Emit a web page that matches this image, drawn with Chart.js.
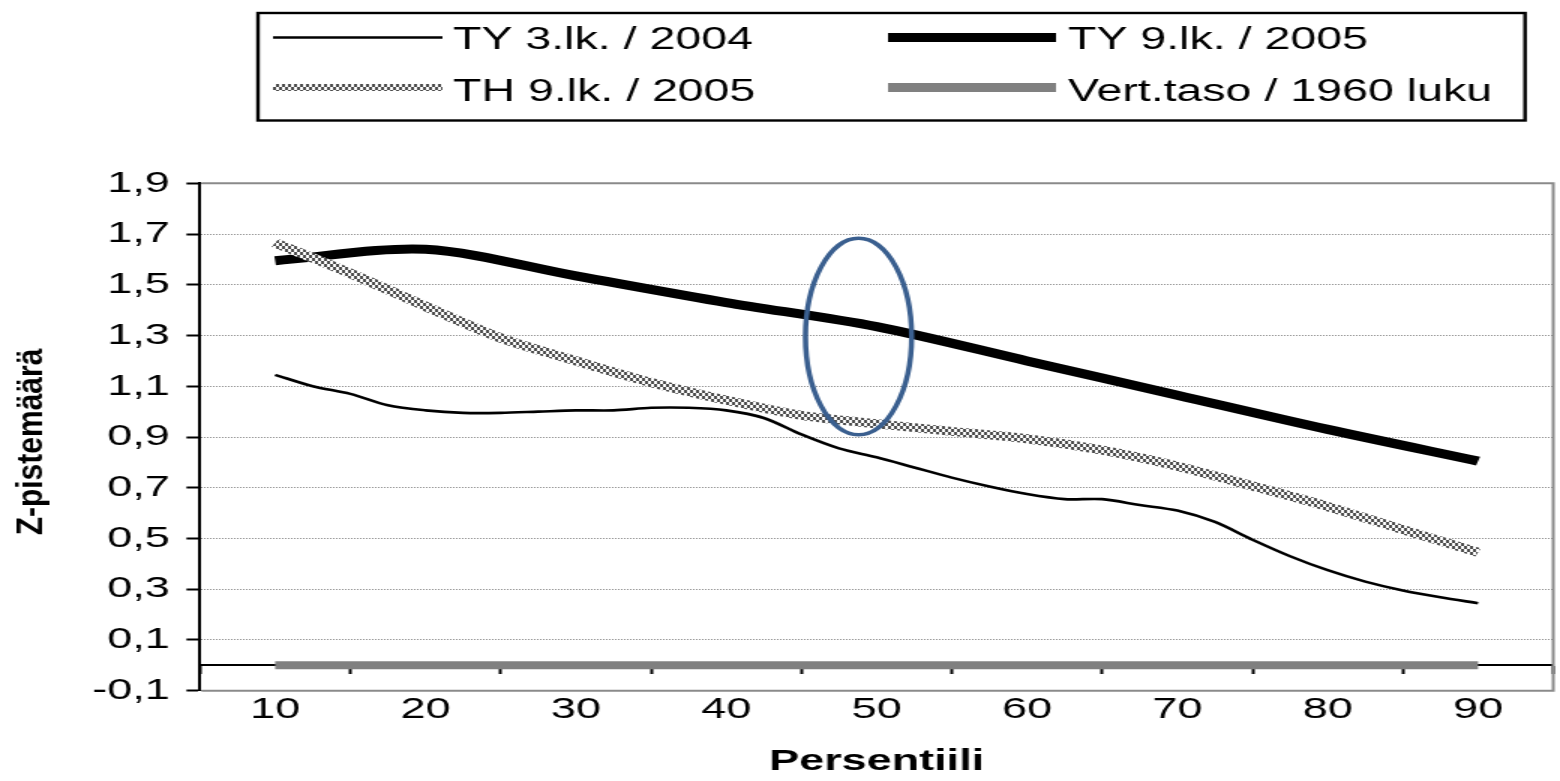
<!DOCTYPE html>
<html>
<head>
<meta charset="utf-8">
<script src="https://cdn.jsdelivr.net/npm/chart.js@4.4.1/dist/chart.umd.min.js"></script>
<style>
html, body { margin: 0; padding: 0; background: #ffffff; overflow: hidden; }
#wrap { position: absolute; left: 0; top: 0; width: 1040px; height: 781px; transform: scale(1.5, 1); transform-origin: 0 0; }
</style>
</head>
<body>
<div id="wrap"><canvas id="c"></canvas></div>
<script>
// ---------------- data ----------------
const seriesLabels = ['TY 3.lk. / 2004', 'TY 9.lk. / 2005', 'TH 9.lk. / 2005', 'Vert.taso / 1960 luku'];

const ty3Percentiles = [10, 12.5, 15, 17.5, 20, 22.5, 25, 27.5, 30, 32.5, 35, 37.5, 40, 42.5, 45, 47.5, 50,
                        52.5, 55, 57.5, 60, 62.5, 65, 67.5, 70, 72.5, 75, 77.5, 80, 82.5, 85, 87.5, 90];
const ty3Values = [1.145, 1.10, 1.07, 1.025, 1.005, 0.995, 0.995, 1.0, 1.005, 1.005, 1.015, 1.015, 1.005, 0.975, 0.91, 0.855, 0.82,
                   0.78, 0.74, 0.705, 0.675, 0.655, 0.655, 0.632, 0.61, 0.565, 0.495, 0.43, 0.375, 0.33, 0.295, 0.268, 0.245];

const ty9Percentiles = [10, 20, 30, 40, 50, 60, 70, 80, 90];
const ty9Values = [1.595, 1.64, 1.535, 1.43, 1.335, 1.20, 1.065, 0.93, 0.805];

const th9Percentiles = [10, 15, 20, 25, 30, 35, 40, 45, 50, 55, 60, 65, 70, 75, 80, 85, 90];
const th9Values = [1.665, 1.545, 1.415, 1.29, 1.20, 1.115, 1.045, 0.985, 0.952, 0.922, 0.893, 0.848, 0.785, 0.707, 0.626, 0.535, 0.445];

const refPercentiles = [10, 20, 30, 40, 50, 60, 70, 80, 90];
const refValues = [0, 0, 0, 0, 0, 0, 0, 0, 0];

const xTickValues = [10, 20, 30, 40, 50, 60, 70, 80, 90];
const xTickLabels = ['10', '20', '30', '40', '50', '60', '70', '80', '90'];
const xBoundaryValues = [5, 15, 25, 35, 45, 55, 65, 75, 85, 95];
const yTickValues = [-0.1, 0.1, 0.3, 0.5, 0.7, 0.9, 1.1, 1.3, 1.5, 1.7, 1.9];
const yTickLabels = ['-0,1', '0,1', '0,3', '0,5', '0,7', '0,9', '1,1', '1,3', '1,5', '1,7', '1,9'];

const xAxisTitle = 'Persentiili';
const yAxisTitle = 'Z-pistemäärä';

// highlight ellipse (data units)
const highlight = { x: 48.8, y: 1.296, rx: 3.53, ry: 0.387 };

// ---------------- layout / style ----------------
const STRETCH = 1.5;
const FONT = "'Liberation Sans', Arial, Helvetica, sans-serif";
const legendLayout = {
  box: { left: 172, top: 13, right: 1016.7, bottom: 120.5 },
  cols: [{ s0: 182, s1: 295, tx: 302 }, { s0: 592, s1: 704, tx: 712 }],
  rows: [{ ly: 37.5, ty: 48.5 }, { ly: 87.5, ty: 100.5 }]
};

const canvas = document.getElementById('c');
const ctx0 = canvas.getContext('2d');

function makeChecker() {
  const c = document.createElement('canvas');
  c.width = 4; c.height = 6;
  const g = c.getContext('2d');
  g.fillStyle = '#ffffff'; g.fillRect(0, 0, 4, 6);
  g.fillStyle = '#4c4c4c'; g.fillRect(0, 0, 2, 3); g.fillRect(2, 3, 2, 3);
  return ctx0.createPattern(c, 'repeat');
}
const checker = makeChecker();

function pts(xs, ys) { return xs.map((x, i) => ({ x: x, y: ys[i] })); }

const decor = {
  id: 'decor',
  beforeDatasetsDraw(chart) {
    const { ctx, chartArea: a } = chart;
    ctx.save();
    ctx.strokeStyle = '#8a8a8a';
    ctx.lineWidth = 2;
    ctx.setLineDash([]);
    ctx.beginPath();
    ctx.moveTo(a.left + 1, a.top);
    ctx.lineTo(a.right, a.top);
    ctx.lineTo(a.right, a.bottom);
    ctx.lineTo(a.left + 1, a.bottom);
    ctx.stroke();
    ctx.restore();
  },
  afterDatasetsDraw(chart) {
    const { ctx } = chart;
    const xs = chart.scales.x, ys = chart.scales.y;
    const cx = xs.getPixelForValue(highlight.x);
    const cy = ys.getPixelForValue(highlight.y);
    const rx = Math.abs(xs.getPixelForValue(highlight.x + highlight.rx) - cx);
    const ry = Math.abs(ys.getPixelForValue(highlight.y + highlight.ry) - cy);
    ctx.save();
    ctx.strokeStyle = '#3a5f8f';
    ctx.lineWidth = 3.5;
    ctx.beginPath();
    ctx.ellipse(cx, cy, rx, ry, 0, 0, Math.PI * 2);
    ctx.stroke();
    ctx.restore();
  },
  afterDraw(chart) {
    const { ctx } = chart;
    const L = legendLayout;
    ctx.save();
    // legend frame
    ctx.strokeStyle = '#000';
    ctx.lineWidth = 2.4;
    ctx.strokeRect(L.box.left, L.box.top, L.box.right - L.box.left, L.box.bottom - L.box.top);
    // legend entries
    ctx.font = '31px ' + FONT;
    ctx.textAlign = 'left';
    ctx.textBaseline = 'alphabetic';
    chart.data.datasets.forEach((ds, i) => {
      const col = L.cols[i % 2], row = L.rows[Math.floor(i / 2)];
      ctx.save();
      ctx.strokeStyle = ds.borderColor;
      ctx.lineWidth = ds.legendWidth;
      ctx.lineCap = 'butt';
      ctx.beginPath();
      ctx.moveTo(col.s0, row.ly);
      ctx.lineTo(col.s1, row.ly);
      ctx.stroke();
      ctx.restore();
      ctx.fillStyle = '#000';
      ctx.fillText(ds.label, col.tx, row.ty);
    });
    // rotated y axis title
    const a = chart.chartArea;
    ctx.translate(27.5, (a.top + a.bottom) / 2 + 5);
    ctx.scale(1 / 1.3, 1);
    ctx.rotate(-Math.PI / 2);
    ctx.font = 'bold 30px ' + FONT;
    ctx.textAlign = 'center';
    ctx.fillStyle = '#000';
    ctx.fillText(yAxisTitle, 0, 0);
    ctx.restore();
  }
};

Chart.defaults.font.family = FONT;

new Chart(canvas, {
  type: 'line',
  data: {
    datasets: [
      { label: seriesLabels[0], data: pts(ty3Percentiles, ty3Values), borderColor: '#000000', borderWidth: 2.6, legendWidth: 2.5, tension: 0.3, order: 0 },
      { label: seriesLabels[1], data: pts(ty9Percentiles, ty9Values), borderColor: '#000000', borderWidth: 9, legendWidth: 9, tension: 0.3, order: 2 },
      { label: seriesLabels[2], data: pts(th9Percentiles, th9Values), borderColor: checker, borderWidth: 9, legendWidth: 7, tension: 0.3, order: 1 },
      { label: seriesLabels[3], data: pts(refPercentiles, refValues), borderColor: '#808080', borderWidth: 8, legendWidth: 9, tension: 0, order: 3 }
    ]
  },
  options: {
    responsive: true,
    maintainAspectRatio: false,
    animation: false,
    devicePixelRatio: 1,
    events: [],
    layout: { padding: { left: 0, right: 1, top: 183.3, bottom: 0 } },
    elements: { point: { radius: 0, hoverRadius: 0 }, line: { fill: false, borderCapStyle: 'butt', borderJoinStyle: 'round' } },
    plugins: { legend: { display: false }, tooltip: { enabled: false }, title: { display: false } },
    scales: {
      x: {
        type: 'linear', position: 'bottom', min: 5, max: 95,
        afterBuildTicks: s => { s.ticks = xTickValues.map(v => ({ value: v })); },
        afterFit: s => { s.height = 781 - 690.7; },
        ticks: { callback: (v, i) => xTickLabels[i], font: { size: 30 }, color: '#000', padding: 1, maxRotation: 0, autoSkip: false },
        grid: { display: false, drawTicks: false },
        border: { display: false },
        title: { display: true, text: xAxisTitle, color: '#000', font: { size: 30, weight: 'bold' }, padding: { top: 0, bottom: 1 } }
      },
      x2: {
        type: 'linear', axis: 'x', position: { y: 0 }, min: 5, max: 95,
        afterBuildTicks: s => { s.ticks = xBoundaryValues.map(v => ({ value: v })); },
        ticks: { display: false },
        grid: { display: true, drawOnChartArea: false, drawTicks: true, tickLength: 8, tickWidth: 2, tickColor: '#000' },
        border: { display: true, color: '#000', width: 2 }
      },
      y: {
        type: 'linear', position: 'left', min: -0.1, max: 1.9,
        afterBuildTicks: s => { s.ticks = yTickValues.map(v => ({ value: v })); },
        afterFit: s => { s.width = 133.3; },
        ticks: { callback: (v, i) => yTickLabels[i], font: { size: 30 }, color: '#000', padding: 11, autoSkip: false },
        grid: { color: '#8c8c8c', lineWidth: 1, tickColor: '#000', tickWidth: 2, tickLength: 9, tickBorderDash: [] },
        border: { display: true, color: '#000', width: 2, dash: [1, 1] }
      }
    }
  },
  plugins: [decor]
});
</script>
</body>
</html>
